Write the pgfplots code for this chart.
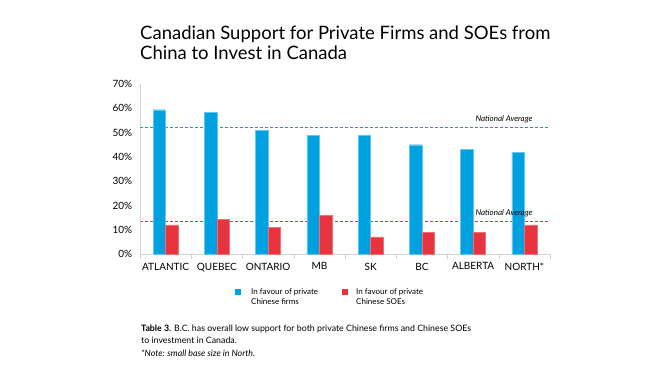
\documentclass[border=0pt]{standalone}
\usepackage{pgfplots}
\pgfplotsset{compat=1.18}
\usepackage{fontspec}
\setmainfont{Lato}
\definecolor{cblue}{RGB}{0,161,224}
\definecolor{cred}{RGB}{232,52,62}
\definecolor{axgray}{RGB}{210,210,210}
\begin{document}
\begin{tikzpicture}
\useasboundingbox (0pt,0pt) rectangle (660pt,374pt);
\node[anchor=base west, font=\fontsize{18.5}{20}\selectfont, inner sep=0] at (140pt,334pt) {Canadian Support for Private Firms and SOEs from};
\node[anchor=base west, font=\fontsize{18.5}{20}\selectfont, inner sep=0] at (140pt,314pt) {China to Invest in Canada};
% overlay axis holding the red average line
\begin{axis}[
  at={(140pt,120pt)}, anchor=south west,
  scale only axis, width=410pt, height=170pt,
  xmin=-0.5, xmax=7.5, ymin=0, ymax=70,
  axis line style={draw=none},
  xtick=\empty, ytick=\empty,
  extra y ticks={13.3}, extra y tick labels={},
  extra y tick style={grid=major, major tick length=0pt,
    major grid style={draw=cred, line width=0.7pt, dash pattern=on 3pt off 2pt}},
]
\end{axis}
\begin{axis}[
  at={(140pt,120pt)}, anchor=south west,
  scale only axis, width=410pt, height=170pt,
  xmin=-0.5, xmax=7.5, ymin=0, ymax=70,
  axis lines=left, axis line style={axgray, -},
  xtick={0,...,7},
  xticklabels={ATLANTIC,QUEBEC,ONTARIO,MB,SK,BC,ALBERTA,NORTH*},
  major x tick style={draw=none},
  minor xtick={-0.5,0.5,...,7.5},
  minor x tick style={axgray},
  minor tick length=5pt,
  ytick={0,10,...,70},
  yticklabel={\pgfmathprintnumber{\tick}\%},
  major y tick style={draw=none},
  extra y ticks={52.2}, extra y tick labels={},
  extra y tick style={grid=major, major tick length=0pt,
    major grid style={draw=cblue, line width=0.7pt, dash pattern=on 3pt off 2pt}},
  tick label style={font=\fontsize{10}{11}\selectfont},
  /pgf/number format/assume math mode=true,
  xticklabel style={yshift=-1pt},
  tick align=outside,
  clip=false,
]
\addplot[ybar, bar width=12.5pt, bar shift=-6.25pt, fill=cblue, draw=cblue!60] coordinates {(0,59.4) (1,58.2) (2,51) (3,49) (4,49) (5,45) (6,43) (7,42)};
\addplot[ybar, bar width=12.5pt, bar shift=6.25pt, fill=cred, draw=cred!70] coordinates {(0,12) (1,14.2) (2,11) (3,15.8) (4,7) (5,9) (6,9) (7,12)};
\node[anchor=south east, font=\itshape\fontsize{8}{9}\selectfont, inner sep=1pt] at (axis cs:7.18,53.5) {National Average};
\node[anchor=south east, font=\itshape\fontsize{8}{9}\selectfont, inner sep=1pt] at (axis cs:7.18,14.6) {National Average};
\end{axis}
\fill[cblue] (235pt,79pt) rectangle (241pt,85pt);
\node[anchor=base west, font=\fontsize{8}{9.5}\selectfont, inner sep=0] at (251pt,79pt) {In favour of private};
\node[anchor=base west, font=\fontsize{8}{9.5}\selectfont, inner sep=0] at (251pt,69pt) {Chinese firms};
\fill[cred] (342pt,79pt) rectangle (348pt,85pt);
\node[anchor=base west, font=\fontsize{8}{9.5}\selectfont, inner sep=0] at (356pt,79pt) {In favour of private};
\node[anchor=base west, font=\fontsize{8}{9.5}\selectfont, inner sep=0] at (356pt,69pt) {Chinese SOEs};
\node[anchor=base west, font=\fontsize{8.8}{10}\selectfont, inner sep=0] at (141pt,42pt) {\textbf{Table 3.} B.C. has overall low support for both private Chinese firms and Chinese SOEs};
\node[anchor=base west, font=\fontsize{8.8}{10}\selectfont, inner sep=0] at (141pt,30pt) {to investment in Canada.};
\node[anchor=base west, font=\itshape\fontsize{8.8}{10}\selectfont, inner sep=0] at (141pt,17pt) {*Note: small base size in North.};
\end{tikzpicture}
\end{document}
